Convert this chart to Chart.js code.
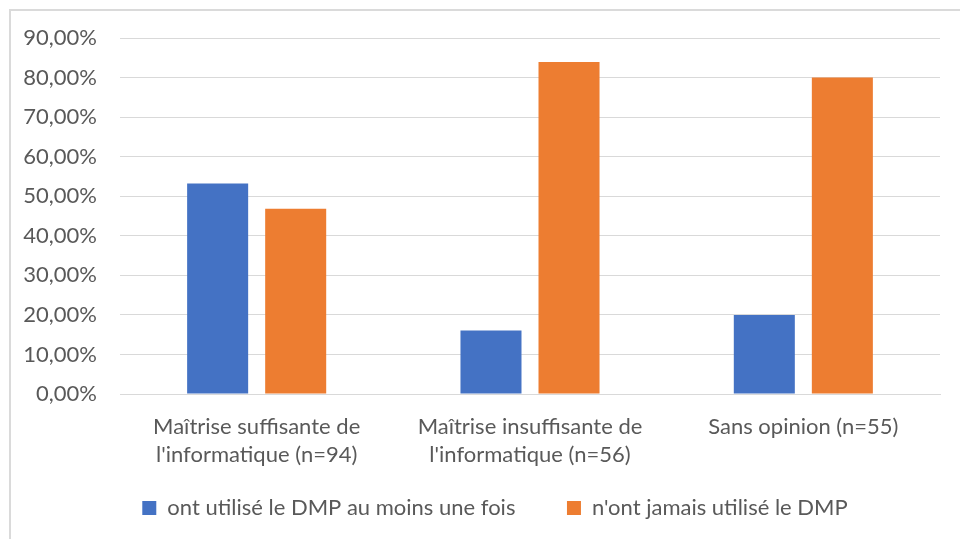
<!DOCTYPE html>
<html>
<head>
<meta charset="utf-8">
<script src="https://cdn.jsdelivr.net/npm/chart.js@4/dist/chart.umd.min.js"></script>
<style>
  html, body { margin: 0; padding: 0; background: #fff; width: 960px; height: 539px; overflow: hidden; }
  #frame { position: absolute; left: 9px; top: 9px; width: 1200px; height: 800px; border: 2px solid #dadada; box-sizing: border-box; }
  #wrap { position: absolute; left: 0; top: 0; width: 960px; height: 539px; }
</style>
</head>
<body>
<div id="frame"></div>
<div id="wrap"><canvas id="c" width="960" height="539"></canvas></div>
<script>
const categories = [
  ["Maîtrise suffisante de", "l'informatique (n=94)"],
  ["Maîtrise insuffisante de", "l'informatique (n=56)"],
  ["Sans opinion (n=55)"]
];
const seriesNames = ["ont utilisé le DMP au moins une fois", "n'ont jamais utilisé le DMP"];
const usedValues = [53.19, 16.07, 20.00];
const neverValues = [46.81, 83.93, 80.00];
const yTickLabels = ["0,00%", "10,00%", "20,00%", "30,00%", "40,00%", "50,00%", "60,00%", "70,00%", "80,00%", "90,00%"];

const FONT = "Lato";
const TEXT = "#595959";

const legendShift = {
  id: 'legendShift',
  afterLayout(chart) {
    if (chart.legend) { chart.legend.left += 15; chart.legend.right += 15; }
  }
};

new Chart(document.getElementById('c'), {
  type: 'bar',
  data: {
    labels: categories,
    datasets: [
      { label: seriesNames[0], data: usedValues, backgroundColor: '#4472C4' },
      { label: seriesNames[1], data: neverValues, backgroundColor: '#ED7D31' }
    ]
  },
  plugins: [legendShift],
  options: {
    responsive: false,
    animation: false,
    devicePixelRatio: 1,
    categoryPercentage: 0.571,
    barPercentage: 0.782,
    layout: { padding: { left: 0, right: 0, top: 38, bottom: 10 } },
    plugins: {
      tooltip: { enabled: false },
      legend: {
        position: 'bottom',
        labels: {
          color: TEXT,
          font: { family: FONT, size: 22 },
          boxWidth: 14,
          boxHeight: 14,
          padding: 29,
          generateLabels: (chart) => {
            const items = Chart.defaults.plugins.legend.labels.generateLabels(chart);
            items.forEach((it, i) => { if (i < items.length - 1) it.text = it.text + "    "; });
            return items;
          }
        }
      }
    },
    scales: {
      x: {
        grid: { display: false, drawTicks: false },
        border: { display: true, color: '#d9d9d9', width: 1 },
        ticks: {
          color: TEXT,
          font: { family: FONT, size: 22, lineHeight: 1.3 },
          padding: 18.4,
          maxRotation: 0,
          autoSkip: false
        },
        afterFit: (s) => { s.height = 74; }
      },
      y: {
        min: 0,
        max: 90,
        grid: { color: '#d9d9d9', lineWidth: 1, drawTicks: false },
        border: { display: false },
        ticks: {
          stepSize: 10,
          color: TEXT,
          font: { family: FONT, size: 22 },
          padding: 23,
          callback: (v, i) => yTickLabels[i]
        },
        afterFit: (s) => { s.width = 120; }
      },
      yRight: {
        type: 'linear',
        axis: 'y',
        position: 'right',
        display: true,
        min: 0,
        max: 90,
        grid: { display: false, drawTicks: false },
        border: { display: false },
        ticks: { display: false },
        afterFit: (s) => { s.width = 20; }
      }
    }
  }
});
</script>
</body>
</html>
